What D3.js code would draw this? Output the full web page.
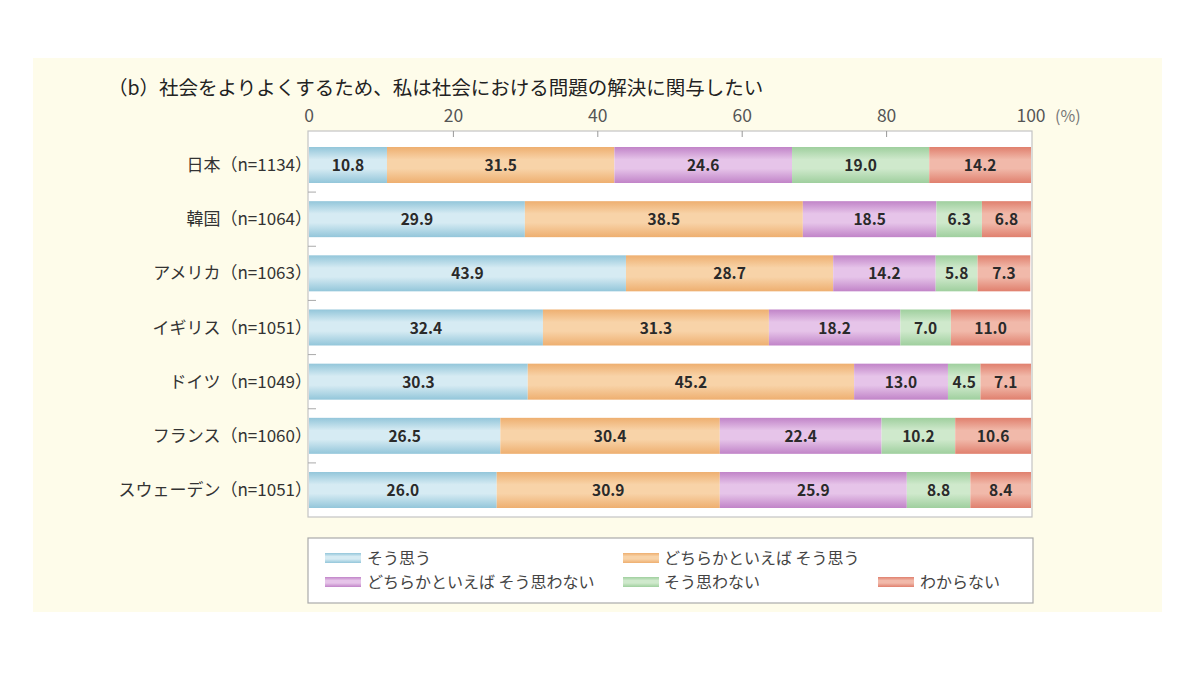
<!DOCTYPE html>
<html><head><meta charset="utf-8">
<script src="https://cdn.jsdelivr.net/npm/d3@7/dist/d3.min.js"></script>
<style>
html,body{margin:0;padding:0;background:#fff;}
svg{display:block;}
text{font-family:"Noto Sans CJK JP","Noto Sans",sans-serif;}
</style></head>
<body>
<svg id="chart" width="1200" height="675"></svg>
<script>
const title = "（b）社会をよりよくするため、私は社会における問題の解決に関与したい";
const countries = ["日本", "韓国", "アメリカ", "イギリス", "ドイツ", "フランス", "スウェーデン"];
const sampleSizes = [1134, 1064, 1063, 1051, 1049, 1060, 1051];
const seriesNames = ["そう思う", "どちらかといえば そう思う", "どちらかといえば そう思わない", "そう思わない", "わからない"];
const agree        = [10.8, 29.9, 43.9, 32.4, 30.3, 26.5, 26.0];
const somewhatAgree= [31.5, 38.5, 28.7, 31.3, 45.2, 30.4, 30.9];
const somewhatDis  = [24.6, 18.5, 14.2, 18.2, 13.0, 22.4, 25.9];
const disagree     = [19.0, 6.3, 5.8, 7.0, 4.5, 10.2, 8.8];
const dontKnow     = [14.2, 6.8, 7.3, 11.0, 7.1, 10.6, 8.4];
const xTicks = [0, 20, 40, 60, 80, 100];

const seriesValues = [agree, somewhatAgree, somewhatDis, disagree, dontKnow];
const colors = [
  {edge:"#93c6da", mid:"#d6ebf3"},
  {edge:"#eeaf70", mid:"#f8d3a8"},
  {edge:"#c184c8", mid:"#e6c4e9"},
  {edge:"#9fcf9e", mid:"#cfe9cc"},
  {edge:"#e0806e", mid:"#f1b9aa"}
];

const svg = d3.select("#chart");
const defs = svg.append("defs");
colors.forEach((c,i)=>{
  const g = defs.append("linearGradient").attr("id","g"+i).attr("x1",0).attr("y1",0).attr("x2",0).attr("y2",1);
  g.append("stop").attr("offset","0%").attr("stop-color",c.edge);
  g.append("stop").attr("offset","35%").attr("stop-color",c.mid);
  g.append("stop").attr("offset","60%").attr("stop-color",c.mid);
  g.append("stop").attr("offset","100%").attr("stop-color",c.edge);
});

// background panel
svg.append("rect").attr("x",33).attr("y",58).attr("width",1129).attr("height",554).attr("fill","#fefcea");

svg.append("text").attr("x",108).attr("y",95).attr("font-size",19.5).attr("font-weight",400).attr("fill","#222").text(title);

const x = d3.scaleLinear().domain([0,100]).range([309,1031]).clamp(true);
const y = d3.scalePoint().domain(countries).range([165,490]);
const step = y.step();
const barH = 36;

// frame
svg.append("rect").attr("x",308).attr("y",131).attr("width",724).attr("height",386)
  .attr("fill","#fff").attr("stroke","#c4c4c4").attr("stroke-width",1.2);

// top ticks
svg.append("g").selectAll("line").data(xTicks.slice(1,-1)).join("line")
  .attr("x1",d=>x(d)).attr("x2",d=>x(d)).attr("y1",131).attr("y2",137)
  .attr("stroke","#999").attr("stroke-width",1);
svg.append("g").selectAll("text").data(xTicks).join("text")
  .attr("x",d=>x(d)).attr("y",122).attr("text-anchor","middle")
  .attr("font-size",17.5).attr("fill","#555").text(d=>d);
svg.append("text").attr("x",x(100)+24).attr("y",122).attr("font-size",16).attr("fill","#777").text("(%)");

// left ticks between rows
svg.append("g").selectAll("line").data(countries.slice(0,-1)).join("line")
  .attr("x1",308).attr("x2",316).attr("y1",d=>y(d)+step/2).attr("y2",d=>y(d)+step/2)
  .attr("stroke","#aaa").attr("stroke-width",1);

// category labels
svg.append("g").selectAll("text").data(countries).join("text")
  .attr("x",312).attr("y",d=>y(d)+6).attr("text-anchor","end")
  .attr("font-size",17).attr("fill","#333")
  .text((d,i)=>d+"（n="+sampleSizes[i]+"）");

// bars
const rows = countries.map((c,i)=>{
  let cum = 0;
  return seriesValues.map((s,k)=>{ const seg={country:c,k:k,v:s[i],x0:cum,x1:cum+s[i]}; cum+=s[i]; return seg; });
}).flat();

svg.append("g").selectAll("rect").data(rows).join("rect")
  .attr("x",d=>x(d.x0)).attr("width",d=>x(d.x1)-x(d.x0))
  .attr("y",d=>y(d.country)-barH/2).attr("height",barH)
  .attr("fill",d=>"url(#g"+d.k+")");

svg.append("g").selectAll("text").data(rows).join("text")
  .attr("x",d=>(x(d.x0)+x(d.x1))/2).attr("y",d=>y(d.country)+6)
  .attr("text-anchor","middle").attr("font-size",15.5).attr("font-weight",600).attr("fill","#2a2a2a")
  .text(d=>d.v.toFixed(1));

// legend
svg.append("rect").attr("x",308).attr("y",538).attr("width",725).attr("height",65)
  .attr("fill","#fff").attr("stroke","#aaa").attr("stroke-width",1.2);
const legendPos = [
  {sx:325, tx:367, y:558},
  {sx:623, tx:664, y:558},
  {sx:325, tx:367, y:582},
  {sx:623, tx:664, y:582},
  {sx:878, tx:920, y:582}
];
const lg = svg.append("g").selectAll("g").data(seriesNames).join("g");
lg.append("rect").attr("x",(d,i)=>legendPos[i].sx).attr("y",(d,i)=>legendPos[i].y-5)
  .attr("width",36).attr("height",10).attr("fill",(d,i)=>"url(#g"+i+")");
lg.append("text").attr("x",(d,i)=>legendPos[i].tx).attr("y",(d,i)=>legendPos[i].y+5.5)
  .attr("font-size",16).attr("fill","#444").text(d=>d);
</script>
</body></html>
